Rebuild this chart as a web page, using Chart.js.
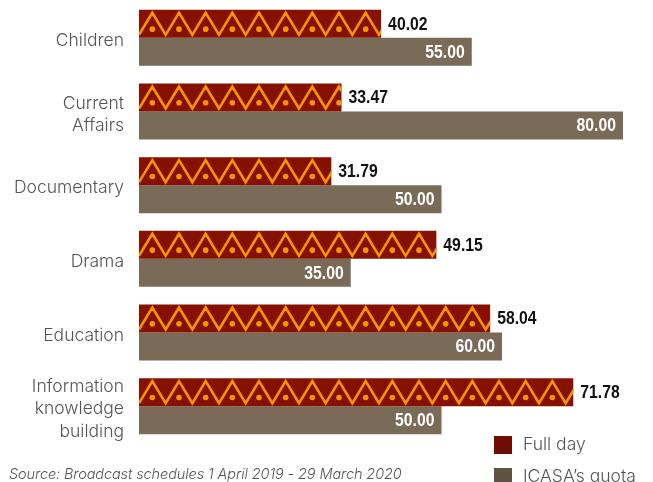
<!DOCTYPE html>
<html>
<head>
<meta charset="utf-8">
<script src="https://cdn.jsdelivr.net/npm/chart.js@4"></script>
<style>
  html, body { margin: 0; padding: 0; background: #fff; }
  #wrap { position: relative; width: 653px; height: 482px; overflow: hidden; }
  canvas { position: absolute; left: 0; top: 0; }
  .leg { position: absolute; left: 494px; font-family: Inter, sans-serif; font-weight: 300; font-size: 17.5px; color: #555; white-space: nowrap; line-height: 18px; }
  .leg span.sw { position: absolute; left: 0; top: 0; width: 18px; height: 18px; }
  .leg span.tx { position: absolute; left: 29px; top: -1px; }
  #source { position: absolute; left: 9px; top: 465px; font-family: Inter, sans-serif; font-weight: 300; font-style: italic; font-size: 14.5px; letter-spacing: -0.1px; color: #555; white-space: nowrap; line-height: 18px; }
</style>
</head>
<body>
<div id="wrap">
  <canvas id="c" width="653" height="482"></canvas>
  <div class="leg" id="leg0" style="top:436px"><span class="sw" style="background:#6E0D02"></span><span class="tx"></span></div>
  <div class="leg" id="leg1" style="top:468px"><span class="sw" style="background:#5F5444"></span><span class="tx"></span></div>
  <div id="source"></div>
</div>
<script>
const categories = [
  ['Children'],
  ['Current', 'Affairs'],
  ['Documentary'],
  ['Drama'],
  ['Education'],
  ['Information', 'knowledge', 'building']
];
const seriesNames = ['Full day', 'ICASA’s quota'];
const fullDay = [40.02, 33.47, 31.79, 49.15, 58.04, 71.78];
const icasaQuota = [55.00, 80.00, 50.00, 35.00, 60.00, 50.00];
const sourceText = 'Source: Broadcast schedules 1 April 2019 - 29 March 2020';

const RED = '#861100';
const ORANGE = '#F59600';
const GRAY = '#7A6A58';

document.querySelector('#leg0 .tx').textContent = seriesNames[0];
document.querySelector('#leg1 .tx').textContent = seriesNames[1];
document.getElementById('source').textContent = sourceText;

const patternPlugin = {
  id: 'zigzag',
  afterDatasetDraw(chart, args) {
    if (args.index !== 0) return;
    const ctx = chart.ctx;
    const period = 80 / 3;
    args.meta.data.forEach(bar => {
      const p = bar.getProps(['x', 'y', 'base', 'height'], true);
      const left = Math.min(p.base, p.x), right = Math.max(p.base, p.x);
      const top = p.y - p.height / 2, bottom = p.y + p.height / 2;
      ctx.save();
      ctx.beginPath();
      ctx.rect(left, top, right - left, bottom - top);
      ctx.clip();
      ctx.strokeStyle = ORANGE;
      ctx.lineWidth = 2.6;
      ctx.lineJoin = 'miter';
      ctx.beginPath();
      let px = left;
      ctx.moveTo(px, bottom - 3);
      while (px < right + period) {
        ctx.lineTo(px + period / 2, top + 3);
        ctx.lineTo(px + period, bottom - 3);
        px += period;
      }
      ctx.stroke();
      ctx.fillStyle = ORANGE;
      for (let cx = left + period / 2; cx < right + period; cx += period) {
        ctx.beginPath();
        ctx.arc(cx, top + 19.3, 2.8, 0, Math.PI * 2);
        ctx.fill();
      }
      ctx.restore();
    });
  }
};

const labelPlugin = {
  id: 'vlabels',
  afterDatasetsDraw(chart) {
    const ctx = chart.ctx;
    const sx = 0.9;
    chart.data.datasets.forEach((ds, i) => {
      const meta = chart.getDatasetMeta(i);
      meta.data.forEach((bar, j) => {
        const p = bar.getProps(['x', 'y'], true);
        const txt = ds.data[j].toFixed(2);
        ctx.save();
        ctx.font = '700 17.5px "Liberation Sans", Arial, sans-serif';
        ctx.textBaseline = 'middle';
        if (i === 0) {
          ctx.fillStyle = '#111';
          ctx.textAlign = 'left';
          ctx.translate(p.x + 7, p.y + 1);
        } else {
          ctx.fillStyle = '#fff';
          ctx.textAlign = 'right';
          ctx.translate(p.x - 7, p.y + 1);
        }
        ctx.scale(sx, 1);
        ctx.fillText(txt, 0, 0);
        ctx.restore();
      });
    });
  }
};

new Chart(document.getElementById('c'), {
  type: 'bar',
  data: {
    labels: categories,
    datasets: [
      { label: seriesNames[0], data: fullDay, backgroundColor: RED, borderWidth: 0 },
      { label: seriesNames[1], data: icasaQuota, backgroundColor: GRAY, borderWidth: 0 }
    ]
  },
  options: {
    indexAxis: 'y',
    responsive: false,
    animation: false,
    devicePixelRatio: 1,
    layout: { padding: { left: 0, right: 30, top: 1, bottom: 39 } },
    datasets: { bar: { categoryPercentage: 0.76, barPercentage: 1.0 } },
    plugins: { legend: { display: false }, tooltip: { enabled: false } },
    scales: {
      x: { display: false, min: 0, max: 80 },
      y: {
        afterFit(scale) { scale.width = 139; scale.paddingTop = 0; scale.paddingBottom = 0; },
        grid: { display: false, drawTicks: false },
        border: { display: false },
        ticks: {
          padding: 15,
          labelOffset: 3,
          color: '#555',
          font: { family: 'Inter', weight: 300, size: 17.5, lineHeight: 1.27 }
        }
      }
    }
  },
  plugins: [patternPlugin, labelPlugin]
});
</script>
</body>
</html>
